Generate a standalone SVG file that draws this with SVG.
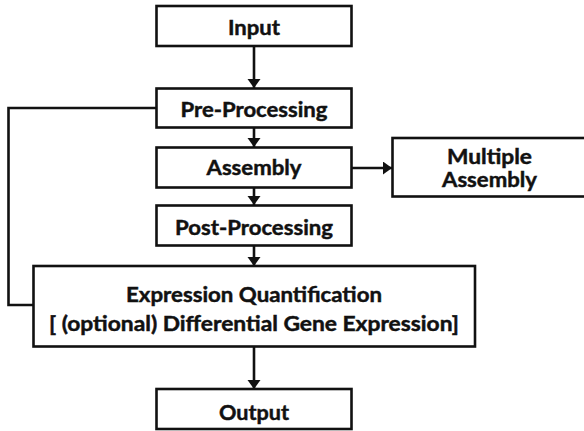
<svg xmlns="http://www.w3.org/2000/svg" width="584" height="431" viewBox="0 0 584 431">
<style>
.box{fill:#fff;stroke:#111;stroke-width:2.6}
.lbl{font-family:Lato,"Open Sans","Liberation Sans",sans-serif;font-weight:700;font-size:20.5px;fill:#111;stroke:#111;stroke-width:0.45;text-anchor:middle}
.con{fill:none;stroke:#111;stroke-width:2.6}
</style>
<defs>
<marker id="ah" markerUnits="userSpaceOnUse" markerWidth="10" markerHeight="14" refX="9" refY="6.5" orient="auto">
<path d="M0,0 L9,6.5 L0,13 Z" fill="#111"/>
</marker>
</defs>
<rect width="584" height="431" fill="#fff"/>
<g id="connectors">
<line class="con" x1="254" y1="46" x2="254" y2="88" marker-end="url(#ah)"/>
<line class="con" x1="254" y1="127" x2="254" y2="147" marker-end="url(#ah)"/>
<line class="con" x1="254" y1="187" x2="254" y2="205" marker-end="url(#ah)"/>
<line class="con" x1="254" y1="245" x2="254" y2="266" marker-end="url(#ah)"/>
<line class="con" x1="254" y1="346" x2="254" y2="389" marker-end="url(#ah)"/>
<line class="con" x1="351" y1="168" x2="392" y2="168" marker-end="url(#ah)"/>
<polyline class="con" points="156,108 8.5,108 8.5,305 33,305"/>
</g>
<g id="input">
<rect class="box" x="156.5" y="6" width="195" height="40"/>
<text class="lbl" x="254" y="35" textLength="52" lengthAdjust="spacingAndGlyphs">Input</text>
</g>
<g id="preprocessing">
<rect class="box" x="156.5" y="88.5" width="195" height="39"/>
<text class="lbl" x="254" y="117" textLength="147" lengthAdjust="spacingAndGlyphs">Pre-Processing</text>
</g>
<g id="assembly">
<rect class="box" x="156.5" y="147.5" width="195" height="40"/>
<text class="lbl" x="254" y="175" textLength="95" lengthAdjust="spacingAndGlyphs">Assembly</text>
</g>
<g id="multiple-assembly">
<rect class="box" x="392.5" y="138" width="200" height="58.5"/>
<text class="lbl" x="489.5" y="164" textLength="85" lengthAdjust="spacingAndGlyphs">Multiple</text>
<text class="lbl" x="489.5" y="187" textLength="95" lengthAdjust="spacingAndGlyphs">Assembly</text>
</g>
<g id="postprocessing">
<rect class="box" x="156.5" y="205.5" width="195" height="40"/>
<text class="lbl" x="254" y="235" textLength="158" lengthAdjust="spacingAndGlyphs">Post-Processing</text>
</g>
<g id="expression">
<rect class="box" x="33.5" y="266" width="441.5" height="80.5"/>
<text class="lbl" x="254" y="302" textLength="256" lengthAdjust="spacingAndGlyphs">Expression Quantification</text>
<text class="lbl" x="254" y="331" textLength="410" lengthAdjust="spacingAndGlyphs">[ (optional) Differential Gene Expression]</text>
</g>
<g id="output">
<rect class="box" x="156.5" y="389" width="195" height="40"/>
<text class="lbl" x="254" y="420" textLength="70" lengthAdjust="spacingAndGlyphs">Output</text>
</g>
</svg>
